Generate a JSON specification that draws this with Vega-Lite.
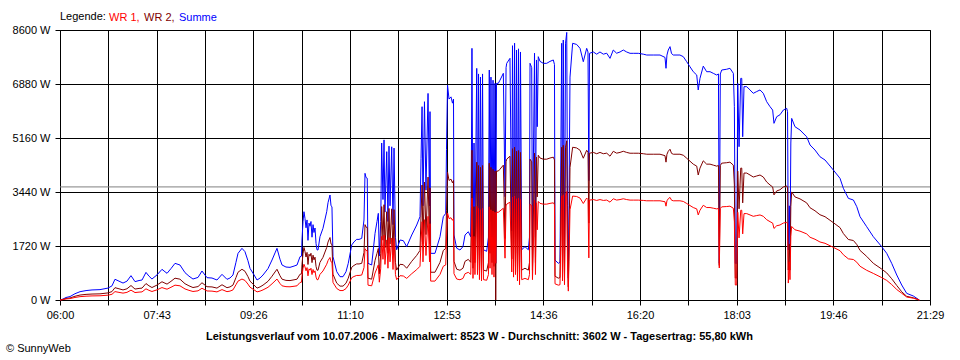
{
  "$schema": "https://vega.github.io/schema/vega-lite/v6.json",
  "width": 870,
  "height": 270,
  "autosize": {"type": "none"},
  "padding": {"left": 60, "top": 30, "right": 30, "bottom": 60},
  "background": "white",
  "config": {
    "font": "Liberation Sans",
    "view": {"stroke": "#000000", "strokeWidth": 1},
    "axis": {
      "labelFont": "Liberation Sans",
      "labelFontSize": 11,
      "labelColor": "#000000",
      "tickColor": "#000000",
      "tickSize": 5,
      "tickWidth": 1,
      "gridColor": "#000000",
      "gridOpacity": 1,
      "gridWidth": 1,
      "domain": false,
      "labelFlush": false,
      "labelOverlap": false,
      "labelBound": false
    }
  },
  "title": {
    "text": "© SunnyWeb",
    "orient": "bottom",
    "anchor": "start",
    "frame": "group",
    "dx": -54,
    "offset": 2,
    "font": "Liberation Sans",
    "fontSize": 11,
    "fontWeight": "normal",
    "color": "#000000"
  },
  "data": {
    "values": [
      {"t":360.0,"Summe":0,"WR1":0,"WR2":0},
      {"t":363.2,"Summe":30,"WR1":12,"WR2":18},
      {"t":366.4,"Summe":80,"WR1":32,"WR2":48},
      {"t":370.7,"Summe":110,"WR1":45,"WR2":65},
      {"t":376.0,"Summe":200,"WR1":81,"WR2":119},
      {"t":381.4,"Summe":265,"WR1":107,"WR2":158},
      {"t":387.8,"Summe":300,"WR1":121,"WR2":179},
      {"t":394.2,"Summe":320,"WR1":130,"WR2":190},
      {"t":402.7,"Summe":330,"WR1":134,"WR2":196},
      {"t":411.3,"Summe":380,"WR1":154,"WR2":226},
      {"t":415.5,"Summe":450,"WR1":182,"WR2":268},
      {"t":418.7,"Summe":660,"WR1":267,"WR2":393},
      {"t":423.0,"Summe":600,"WR1":243,"WR2":357},
      {"t":427.3,"Summe":540,"WR1":219,"WR2":321},
      {"t":431.5,"Summe":600,"WR1":243,"WR2":357},
      {"t":435.8,"Summe":775,"WR1":314,"WR2":461},
      {"t":440.1,"Summe":585,"WR1":237,"WR2":348},
      {"t":444.4,"Summe":620,"WR1":251,"WR2":369},
      {"t":447.6,"Summe":637,"WR1":258,"WR2":379},
      {"t":451.8,"Summe":880,"WR1":356,"WR2":524},
      {"t":455.0,"Summe":760,"WR1":308,"WR2":452},
      {"t":458.2,"Summe":668,"WR1":271,"WR2":397},
      {"t":463.6,"Summe":800,"WR1":324,"WR2":476},
      {"t":468.9,"Summe":977,"WR1":396,"WR2":581},
      {"t":472.1,"Summe":900,"WR1":364,"WR2":536},
      {"t":474.3,"Summe":850,"WR1":344,"WR2":506},
      {"t":478.5,"Summe":1000,"WR1":405,"WR2":595},
      {"t":482.8,"Summe":1168,"WR1":473,"WR2":695},
      {"t":488.1,"Summe":1115,"WR1":452,"WR2":663},
      {"t":493.5,"Summe":870,"WR1":352,"WR2":518},
      {"t":497.7,"Summe":760,"WR1":308,"WR2":452},
      {"t":502.0,"Summe":668,"WR1":271,"WR2":397},
      {"t":507.4,"Summe":720,"WR1":292,"WR2":428},
      {"t":511.6,"Summe":923,"WR1":374,"WR2":549},
      {"t":517.0,"Summe":711,"WR1":288,"WR2":423},
      {"t":522.3,"Summe":700,"WR1":283,"WR2":417},
      {"t":527.6,"Summe":637,"WR1":258,"WR2":379},
      {"t":533.0,"Summe":817,"WR1":331,"WR2":486},
      {"t":538.3,"Summe":658,"WR1":266,"WR2":392},
      {"t":541.5,"Summe":700,"WR1":283,"WR2":417},
      {"t":544.7,"Summe":796,"WR1":322,"WR2":474},
      {"t":547.9,"Summe":1200,"WR1":486,"WR2":714},
      {"t":550.1,"Summe":1486,"WR1":602,"WR2":884},
      {"t":554.3,"Summe":1646,"WR1":667,"WR2":979},
      {"t":557.5,"Summe":1540,"WR1":624,"WR2":916},
      {"t":560.7,"Summe":1250,"WR1":506,"WR2":744},
      {"t":562.9,"Summe":1008,"WR1":408,"WR2":600},
      {"t":567.2,"Summe":800,"WR1":324,"WR2":476},
      {"t":570.4,"Summe":637,"WR1":258,"WR2":379},
      {"t":573.6,"Summe":700,"WR1":283,"WR2":417},
      {"t":576.8,"Summe":796,"WR1":322,"WR2":474},
      {"t":582.1,"Summe":1000,"WR1":405,"WR2":595},
      {"t":586.4,"Summe":1274,"WR1":516,"WR2":758},
      {"t":589.6,"Summe":1500,"WR1":607,"WR2":893},
      {"t":591.7,"Summe":1646,"WR1":667,"WR2":979},
      {"t":594.9,"Summe":1300,"WR1":526,"WR2":774},
      {"t":597.1,"Summe":1115,"WR1":452,"WR2":663},
      {"t":601.3,"Summe":1050,"WR1":425,"WR2":625},
      {"t":605.6,"Summe":1040,"WR1":421,"WR2":619},
      {"t":609.9,"Summe":1080,"WR1":437,"WR2":643},
      {"t":613.1,"Summe":1115,"WR1":452,"WR2":663},
      {"t":616.3,"Summe":1380,"WR1":559,"WR2":821},
      {"t":617.9,"Summe":1400,"WR1":567,"WR2":833},
      {"t":618.4,"Summe":1911,"WR1":774,"WR2":1137},
      {"t":619.5,"Summe":2500,"WR1":1012,"WR2":1488},
      {"t":620.5,"Summe":2812,"WR1":1139,"WR2":1673},
      {"t":621.6,"Summe":2600,"WR1":1053,"WR2":1547},
      {"t":622.7,"Summe":2300,"WR1":931,"WR2":1369},
      {"t":623.8,"Summe":2550,"WR1":1033,"WR2":1517},
      {"t":624.8,"Summe":1900,"WR1":769,"WR2":1131},
      {"t":625.9,"Summe":2450,"WR1":992,"WR2":1458},
      {"t":627.0,"Summe":2350,"WR1":952,"WR2":1398},
      {"t":628.0,"Summe":2500,"WR1":1012,"WR2":1488},
      {"t":629.1,"Summe":2000,"WR1":810,"WR2":1190},
      {"t":630.2,"Summe":2400,"WR1":972,"WR2":1428},
      {"t":631.2,"Summe":2150,"WR1":871,"WR2":1279},
      {"t":632.3,"Summe":2293,"WR1":929,"WR2":1364},
      {"t":633.4,"Summe":1800,"WR1":729,"WR2":1071},
      {"t":634.4,"Summe":1600,"WR1":648,"WR2":952},
      {"t":635.5,"Summe":1592,"WR1":645,"WR2":947},
      {"t":637.6,"Summe":2016,"WR1":816,"WR2":1200},
      {"t":640.8,"Summe":2282,"WR1":924,"WR2":1358},
      {"t":644.8,"Summe":2812,"WR1":1139,"WR2":1673},
      {"t":646.2,"Summe":3100,"WR1":1255,"WR2":1845},
      {"t":648.3,"Summe":3344,"WR1":1354,"WR2":1990},
      {"t":649.4,"Summe":3000,"WR1":1215,"WR2":1785},
      {"t":650.4,"Summe":2972,"WR1":1204,"WR2":1768},
      {"t":651.5,"Summe":1380,"WR1":559,"WR2":821},
      {"t":655.5,"Summe":903,"WR1":366,"WR2":537},
      {"t":659.0,"Summe":743,"WR1":301,"WR2":442},
      {"t":662.2,"Summe":743,"WR1":301,"WR2":442},
      {"t":665.4,"Summe":900,"WR1":364,"WR2":536},
      {"t":667.8,"Summe":1168,"WR1":473,"WR2":695},
      {"t":671.5,"Summe":1752,"WR1":710,"WR2":1042},
      {"t":673.9,"Summe":1850,"WR1":749,"WR2":1101},
      {"t":676.8,"Summe":1932,"WR1":782,"WR2":1150},
      {"t":679.3,"Summe":1930,"WR1":782,"WR2":1148},
      {"t":682.2,"Summe":1964,"WR1":795,"WR2":1169},
      {"t":684.6,"Summe":2548,"WR1":1032,"WR2":1516},
      {"t":685.7,"Summe":4035,"WR1":1634,"WR2":2401},
      {"t":686.8,"Summe":3900,"WR1":1579,"WR2":2321},
      {"t":688.1,"Summe":3876,"WR1":1570,"WR2":2306},
      {"t":688.9,"Summe":1168,"WR1":473,"WR2":695},
      {"t":692.8,"Summe":1115,"WR1":452,"WR2":663},
      {"t":696.4,"Summe":2123,"WR1":860,"WR2":1263},
      {"t":698.5,"Summe":2500,"WR1":1012,"WR2":1488},
      {"t":699.9,"Summe":2760,"WR1":1118,"WR2":1642},
      {"t":701.0,"Summe":1400,"WR1":567,"WR2":833},
      {"t":702.5,"Summe":2500,"WR1":1012,"WR2":1488},
      {"t":703.5,"Summe":5000,"WR1":2025,"WR2":2975},
      {"t":704.9,"Summe":3200,"WR1":1296,"WR2":1904},
      {"t":706.0,"Summe":5100,"WR1":2065,"WR2":3035},
      {"t":707.0,"Summe":2800,"WR1":1134,"WR2":1666},
      {"t":708.9,"Summe":4725,"WR1":1914,"WR2":2811},
      {"t":710.2,"Summe":2500,"WR1":1012,"WR2":1488},
      {"t":711.3,"Summe":4900,"WR1":1984,"WR2":2916},
      {"t":712.4,"Summe":3000,"WR1":1215,"WR2":1785},
      {"t":714.2,"Summe":4880,"WR1":1976,"WR2":2904},
      {"t":715.6,"Summe":2400,"WR1":972,"WR2":1428},
      {"t":716.7,"Summe":4840,"WR1":1960,"WR2":2880},
      {"t":718.2,"Summe":2000,"WR1":810,"WR2":1190},
      {"t":719.5,"Summe":1600,"WR1":648,"WR2":952},
      {"t":723.1,"Summe":1911,"WR1":774,"WR2":1137},
      {"t":726.6,"Summe":1890,"WR1":765,"WR2":1125},
      {"t":730.2,"Summe":1700,"WR1":688,"WR2":1012},
      {"t":735.6,"Summe":2070,"WR1":838,"WR2":1232},
      {"t":740.9,"Summe":2389,"WR1":968,"WR2":1421},
      {"t":744.4,"Summe":2654,"WR1":1075,"WR2":1579},
      {"t":745.5,"Summe":4500,"WR1":1822,"WR2":2678},
      {"t":746.6,"Summe":6157,"WR1":2494,"WR2":3663},
      {"t":747.6,"Summe":3000,"WR1":1215,"WR2":1785},
      {"t":749.2,"Summe":6316,"WR1":2558,"WR2":3758},
      {"t":750.8,"Summe":3500,"WR1":1417,"WR2":2083},
      {"t":753.0,"Summe":6580,"WR1":2665,"WR2":3915},
      {"t":754.6,"Summe":3000,"WR1":1215,"WR2":1785},
      {"t":755.1,"Summe":6000,"WR1":2430,"WR2":3570},
      {"t":755.8,"Summe":1486,"WR1":602,"WR2":884},
      {"t":760.4,"Summe":1486,"WR1":602,"WR2":884},
      {"t":765.8,"Summe":2016,"WR1":816,"WR2":1200},
      {"t":769.3,"Summe":2654,"WR1":1075,"WR2":1579},
      {"t":771.9,"Summe":2760,"WR1":1118,"WR2":1642},
      {"t":772.7,"Summe":4800,"WR1":1944,"WR2":2856},
      {"t":773.8,"Summe":6848,"WR1":2773,"WR2":4075},
      {"t":775.4,"Summe":6400,"WR1":2592,"WR2":3808},
      {"t":777.5,"Summe":6470,"WR1":2620,"WR2":3850},
      {"t":779.1,"Summe":6270,"WR1":2539,"WR2":3731},
      {"t":780.2,"Summe":6400,"WR1":2592,"WR2":3808},
      {"t":780.7,"Summe":2070,"WR1":838,"WR2":1232},
      {"t":783.6,"Summe":1650,"WR1":668,"WR2":982},
      {"t":787.1,"Summe":1592,"WR1":645,"WR2":947},
      {"t":790.3,"Summe":1700,"WR1":688,"WR2":1012},
      {"t":792.5,"Summe":2070,"WR1":838,"WR2":1232},
      {"t":796.0,"Summe":2175,"WR1":881,"WR2":1294},
      {"t":798.6,"Summe":2016,"WR1":816,"WR2":1200},
      {"t":799.4,"Summe":5000,"WR1":2025,"WR2":2975},
      {"t":799.9,"Summe":8016,"WR1":3246,"WR2":4770},
      {"t":801.0,"Summe":1700,"WR1":688,"WR2":1012},
      {"t":802.1,"Summe":5000,"WR1":2025,"WR2":2975},
      {"t":803.1,"Summe":2000,"WR1":810,"WR2":1190},
      {"t":805.0,"Summe":7378,"WR1":2988,"WR2":4390},
      {"t":805.8,"Summe":2000,"WR1":810,"WR2":1190},
      {"t":806.9,"Summe":7200,"WR1":2916,"WR2":4284},
      {"t":807.9,"Summe":1600,"WR1":648,"WR2":952},
      {"t":809.0,"Summe":7100,"WR1":2875,"WR2":4225},
      {"t":810.1,"Summe":1500,"WR1":607,"WR2":893},
      {"t":811.2,"Summe":7200,"WR1":2916,"WR2":4284},
      {"t":812.2,"Summe":1600,"WR1":648,"WR2":952},
      {"t":815.6,"Summe":1550,"WR1":628,"WR2":922},
      {"t":817.5,"Summe":2000,"WR1":810,"WR2":1190},
      {"t":818.4,"Summe":7325,"WR1":2967,"WR2":4358},
      {"t":819.2,"Summe":2500,"WR1":1012,"WR2":1488},
      {"t":820.2,"Summe":7100,"WR1":2875,"WR2":4225},
      {"t":821.3,"Summe":2000,"WR1":810,"WR2":1190},
      {"t":822.4,"Summe":7000,"WR1":2835,"WR2":4165},
      {"t":823.4,"Summe":1800,"WR1":729,"WR2":1071},
      {"t":824.5,"Summe":6900,"WR1":2794,"WR2":4106},
      {"t":825.3,"Summe":1170,"WR1":1170,"WR2":0},
      {"t":826.1,"Summe":6900,"WR1":2794,"WR2":4106},
      {"t":828.0,"Summe":6900,"WR1":2794,"WR2":4106},
      {"t":829.8,"Summe":7000,"WR1":2835,"WR2":4165},
      {"t":833.4,"Summe":7220,"WR1":2924,"WR2":4296},
      {"t":835.2,"Summe":3290,"WR1":1332,"WR2":1958},
      {"t":836.3,"Summe":7400,"WR1":2997,"WR2":4403},
      {"t":837.0,"Summe":7538,"WR1":3053,"WR2":4485},
      {"t":840.5,"Summe":7697,"WR1":3117,"WR2":4580},
      {"t":842.4,"Summe":2200,"WR1":891,"WR2":1309},
      {"t":843.2,"Summe":8100,"WR1":3280,"WR2":4820},
      {"t":844.3,"Summe":1800,"WR1":729,"WR2":1071},
      {"t":845.4,"Summe":8180,"WR1":3313,"WR2":4867},
      {"t":846.4,"Summe":2000,"WR1":810,"WR2":1190},
      {"t":847.5,"Summe":7960,"WR1":3224,"WR2":4736},
      {"t":848.5,"Summe":1500,"WR1":607,"WR2":893},
      {"t":849.6,"Summe":8000,"WR1":3240,"WR2":4760},
      {"t":850.7,"Summe":1200,"WR1":486,"WR2":714},
      {"t":851.7,"Summe":7900,"WR1":3199,"WR2":4701},
      {"t":853.0,"Summe":1600,"WR1":648,"WR2":952},
      {"t":856.5,"Summe":1700,"WR1":688,"WR2":1012},
      {"t":860.1,"Summe":1600,"WR1":648,"WR2":952},
      {"t":861.3,"Summe":2000,"WR1":810,"WR2":1190},
      {"t":861.9,"Summe":7538,"WR1":3053,"WR2":4485},
      {"t":863.7,"Summe":7400,"WR1":2997,"WR2":4403},
      {"t":864.5,"Summe":1600,"WR1":648,"WR2":952},
      {"t":866.7,"Summe":7860,"WR1":3183,"WR2":4677},
      {"t":867.7,"Summe":2000,"WR1":810,"WR2":1190},
      {"t":868.8,"Summe":7645,"WR1":3096,"WR2":4549},
      {"t":869.6,"Summe":5520,"WR1":2236,"WR2":3284},
      {"t":870.7,"Summe":7750,"WR1":3139,"WR2":4611},
      {"t":872.6,"Summe":7600,"WR1":3078,"WR2":4522},
      {"t":876.1,"Summe":7538,"WR1":3053,"WR2":4485},
      {"t":879.7,"Summe":7538,"WR1":3053,"WR2":4485},
      {"t":883.2,"Summe":7600,"WR1":3078,"WR2":4522},
      {"t":886.8,"Summe":7645,"WR1":3096,"WR2":4549},
      {"t":888.0,"Summe":7500,"WR1":3037,"WR2":4463},
      {"t":888.6,"Summe":1274,"WR1":516,"WR2":758},
      {"t":892.1,"Summe":1168,"WR1":473,"WR2":695},
      {"t":893.9,"Summe":1200,"WR1":486,"WR2":714},
      {"t":895.7,"Summe":8176,"WR1":3311,"WR2":4865},
      {"t":896.6,"Summe":1500,"WR1":607,"WR2":893},
      {"t":897.4,"Summe":8280,"WR1":3353,"WR2":4927},
      {"t":898.7,"Summe":1200,"WR1":486,"WR2":714},
      {"t":899.8,"Summe":8180,"WR1":3313,"WR2":4867},
      {"t":901.1,"Summe":8523,"WR1":3452,"WR2":5071},
      {"t":901.9,"Summe":3000,"WR1":1215,"WR2":1785},
      {"t":902.8,"Summe":700,"WR1":283,"WR2":417},
      {"t":903.5,"Summe":3000,"WR1":1215,"WR2":1785},
      {"t":904.6,"Summe":7100,"WR1":2875,"WR2":4225},
      {"t":907.4,"Summe":8176,"WR1":3311,"WR2":4865},
      {"t":911.7,"Summe":8140,"WR1":3297,"WR2":4843},
      {"t":915.3,"Summe":8016,"WR1":3246,"WR2":4770},
      {"t":918.8,"Summe":7590,"WR1":3074,"WR2":4516},
      {"t":922.4,"Summe":8016,"WR1":3246,"WR2":4770},
      {"t":923.8,"Summe":7900,"WR1":3199,"WR2":4701},
      {"t":924.7,"Summe":3800,"WR1":1340,"WR2":2450},
      {"t":925.4,"Summe":7857,"WR1":3182,"WR2":4675},
      {"t":929.5,"Summe":7900,"WR1":3199,"WR2":4701},
      {"t":933.1,"Summe":7830,"WR1":3171,"WR2":4659},
      {"t":936.6,"Summe":7900,"WR1":3199,"WR2":4701},
      {"t":940.2,"Summe":7830,"WR1":3171,"WR2":4659},
      {"t":943.8,"Summe":7860,"WR1":3183,"WR2":4677},
      {"t":947.3,"Summe":7697,"WR1":3117,"WR2":4580},
      {"t":950.8,"Summe":7962,"WR1":3225,"WR2":4737},
      {"t":954.4,"Summe":7860,"WR1":3183,"WR2":4677},
      {"t":958.0,"Summe":7900,"WR1":3199,"WR2":4701},
      {"t":961.5,"Summe":7962,"WR1":3225,"WR2":4737},
      {"t":965.1,"Summe":7900,"WR1":3199,"WR2":4701},
      {"t":968.7,"Summe":7857,"WR1":3182,"WR2":4675},
      {"t":972.2,"Summe":7857,"WR1":3182,"WR2":4675},
      {"t":977.5,"Summe":7857,"WR1":3182,"WR2":4675},
      {"t":982.9,"Summe":7830,"WR1":3171,"WR2":4659},
      {"t":986.5,"Summe":7803,"WR1":3160,"WR2":4643},
      {"t":993.5,"Summe":7803,"WR1":3160,"WR2":4643},
      {"t":1000.7,"Summe":7803,"WR1":3160,"WR2":4643},
      {"t":1006.0,"Summe":7728,"WR1":3130,"WR2":4598},
      {"t":1007.1,"Summe":7380,"WR1":2989,"WR2":4391},
      {"t":1008.1,"Summe":7800,"WR1":3159,"WR2":4641},
      {"t":1009.5,"Summe":7962,"WR1":3225,"WR2":4737},
      {"t":1011.4,"Summe":8070,"WR1":3268,"WR2":4802},
      {"t":1013.0,"Summe":7850,"WR1":3179,"WR2":4671},
      {"t":1014.9,"Summe":7803,"WR1":3160,"WR2":4643},
      {"t":1022.0,"Summe":7803,"WR1":3160,"WR2":4643},
      {"t":1025.6,"Summe":7750,"WR1":3139,"WR2":4611},
      {"t":1029.2,"Summe":7590,"WR1":3074,"WR2":4516},
      {"t":1032.7,"Summe":7430,"WR1":3009,"WR2":4421},
      {"t":1036.2,"Summe":7272,"WR1":2945,"WR2":4327},
      {"t":1039.9,"Summe":7166,"WR1":2902,"WR2":4264},
      {"t":1041.5,"Summe":6690,"WR1":2709,"WR2":3981},
      {"t":1043.4,"Summe":7060,"WR1":2859,"WR2":4201},
      {"t":1046.9,"Summe":7450,"WR1":3017,"WR2":4433},
      {"t":1050.5,"Summe":7272,"WR1":2945,"WR2":4327},
      {"t":1054.1,"Summe":7272,"WR1":2945,"WR2":4327},
      {"t":1057.6,"Summe":7220,"WR1":2924,"WR2":4296},
      {"t":1061.2,"Summe":7166,"WR1":2902,"WR2":4264},
      {"t":1063.1,"Summe":7200,"WR1":2916,"WR2":4284},
      {"t":1064.0,"Summe":1168,"WR1":1020,"WR2":1100},
      {"t":1065.1,"Summe":7200,"WR1":2916,"WR2":4284},
      {"t":1066.6,"Summe":7325,"WR1":2967,"WR2":4358},
      {"t":1071.9,"Summe":7350,"WR1":2977,"WR2":4373},
      {"t":1075.4,"Summe":7380,"WR1":2989,"WR2":4391},
      {"t":1079.0,"Summe":7220,"WR1":2924,"WR2":4296},
      {"t":1080.1,"Summe":6157,"WR1":2494,"WR2":3663},
      {"t":1081.1,"Summe":1168,"WR1":478,"WR2":700},
      {"t":1082.6,"Summe":1168,"WR1":478,"WR2":700},
      {"t":1083.7,"Summe":6900,"WR1":2794,"WR2":4106},
      {"t":1085.1,"Summe":4883,"WR1":1978,"WR2":2905},
      {"t":1086.9,"Summe":7060,"WR1":2859,"WR2":4201},
      {"t":1088.0,"Summe":7060,"WR1":2859,"WR2":4201},
      {"t":1089.0,"Summe":5200,"WR1":2106,"WR2":3094},
      {"t":1090.4,"Summe":6795,"WR1":2752,"WR2":4043},
      {"t":1093.3,"Summe":6795,"WR1":2752,"WR2":4043},
      {"t":1096.8,"Summe":6690,"WR1":2709,"WR2":3981},
      {"t":1100.3,"Summe":6583,"WR1":2666,"WR2":3917},
      {"t":1104.0,"Summe":6640,"WR1":2689,"WR2":3951},
      {"t":1107.5,"Summe":6690,"WR1":2709,"WR2":3981},
      {"t":1111.0,"Summe":6583,"WR1":2666,"WR2":3917},
      {"t":1114.6,"Summe":6317,"WR1":2558,"WR2":3759},
      {"t":1118.2,"Summe":6157,"WR1":2494,"WR2":3663},
      {"t":1121.0,"Summe":6050,"WR1":2450,"WR2":3600},
      {"t":1122.4,"Summe":5627,"WR1":2279,"WR2":3348},
      {"t":1125.3,"Summe":5838,"WR1":2364,"WR2":3474},
      {"t":1128.8,"Summe":5900,"WR1":2389,"WR2":3511},
      {"t":1132.4,"Summe":6051,"WR1":2451,"WR2":3600},
      {"t":1136.0,"Summe":6105,"WR1":2473,"WR2":3632},
      {"t":1136.9,"Summe":6000,"WR1":2430,"WR2":3570},
      {"t":1137.7,"Summe":1592,"WR1":540,"WR2":955},
      {"t":1138.8,"Summe":3000,"WR1":1215,"WR2":1785},
      {"t":1139.5,"Summe":1600,"WR1":648,"WR2":952},
      {"t":1140.4,"Summe":5000,"WR1":2025,"WR2":2975},
      {"t":1141.3,"Summe":5785,"WR1":2343,"WR2":3442},
      {"t":1144.8,"Summe":5520,"WR1":2236,"WR2":3284},
      {"t":1150.2,"Summe":5414,"WR1":2193,"WR2":3221},
      {"t":1157.3,"Summe":5200,"WR1":2106,"WR2":3094},
      {"t":1160.9,"Summe":4937,"WR1":1999,"WR2":2938},
      {"t":1166.2,"Summe":4777,"WR1":1935,"WR2":2842},
      {"t":1171.5,"Summe":4564,"WR1":1848,"WR2":2716},
      {"t":1176.9,"Summe":4459,"WR1":1806,"WR2":2653},
      {"t":1185.8,"Summe":4140,"WR1":1677,"WR2":2463},
      {"t":1192.9,"Summe":3876,"WR1":1570,"WR2":2306},
      {"t":1196.5,"Summe":3557,"WR1":1441,"WR2":2116},
      {"t":1201.8,"Summe":3238,"WR1":1311,"WR2":1927},
      {"t":1207.2,"Summe":3185,"WR1":1290,"WR2":1895},
      {"t":1210.8,"Summe":2972,"WR1":1204,"WR2":1768},
      {"t":1214.3,"Summe":2654,"WR1":1075,"WR2":1579},
      {"t":1221.4,"Summe":2335,"WR1":946,"WR2":1389},
      {"t":1228.5,"Summe":2016,"WR1":847,"WR2":1169},
      {"t":1237.4,"Summe":1700,"WR1":714,"WR2":986},
      {"t":1242.8,"Summe":1486,"WR1":624,"WR2":862},
      {"t":1248.1,"Summe":1168,"WR1":491,"WR2":677},
      {"t":1253.5,"Summe":796,"WR1":334,"WR2":462},
      {"t":1258.8,"Summe":478,"WR1":215,"WR2":263},
      {"t":1264.1,"Summe":212,"WR1":95,"WR2":117},
      {"t":1271.2,"Summe":127,"WR1":57,"WR2":70},
      {"t":1277.6,"Summe":0,"WR1":0,"WR2":0}
    ]
  },
  "encoding": {
    "x": {
      "field": "t",
      "type": "quantitative",
      "scale": {"domain": [360, 1289], "nice": false, "zero": false},
      "axis": {
        "values": [360, 411.611, 463.222, 514.833, 566.444, 618.056, 669.667, 721.278, 772.889, 824.5, 876.111, 927.722, 979.333, 1030.944, 1082.556, 1134.167, 1185.778, 1237.389, 1289],
        "labelExpr": "['06:00','','07:43','','09:26','','11:10','','12:53','','14:36','','16:20','','18:03','','19:46','','21:29'][round((datum.value-360)/51.6111)]",
        "grid": true,
        "labelPadding": 4,
        "title": "Leistungsverlauf vom 10.07.2006 - Maximalwert: 8523 W - Durchschnitt: 3602 W - Tagesertrag: 55,80 kWh",
        "titleFont": "Liberation Sans",
        "titleFontSize": 11,
        "titleFontWeight": "bold",
        "titleColor": "#000000",
        "titlePadding": 10,
        "titleX": 419
      }
    },
    "y": {
      "type": "quantitative",
      "scale": {"domain": [0, 8600], "nice": false},
      "axis": {
        "values": [0, 1720, 3440, 5160, 6880, 8600],
        "labelExpr": "datum.value + ' W'",
        "grid": true,
        "labelPadding": 5,
        "title": null
      }
    }
  },
  "layer": [
    {
      "data": {"values": [{"avg": 3602}]},
      "mark": {"type": "rule", "color": "#808080", "strokeWidth": 1},
      "encoding": {"x": null, "y": {"field": "avg", "type": "quantitative"}}
    },
    {
      "mark": {"type": "line", "strokeWidth": 1, "interpolate": "linear"},
      "encoding": {
        "y": {"field": "Summe", "type": "quantitative"},
        "color": {
          "datum": "Summe",
          "type": "nominal",
          "scale": {"domain": ["WR 1", "WR 2", "Summe"], "range": ["#ff0000", "#800000", "#0000ff"]},
          "legend": {
            "title": "Legende:",
            "orient": "none",
            "legendX": 0,
            "legendY": -18,
            "direction": "horizontal",
            "titleOrient": "left",
            "titleFont": "Liberation Sans",
            "titleFontSize": 11,
            "titleFontWeight": "normal",
            "titleColor": "#000000",
            "titlePadding": 3,
            "labelFont": "Liberation Sans",
            "labelFontSize": 11,
            "labelOffset": -11,
            "symbolSize": 0,
            "symbolStrokeWidth": 0,
            "symbolOpacity": 0,
            "columnPadding": 4,
            "padding": 0,
            "labelExpr": "datum.label == 'Summe' ? datum.label : datum.label + ','",
            "labelColor": {"expr": "datum.value == 'WR 1' ? '#ff0000' : (datum.value == 'WR 2' ? '#800000' : '#0000ff')"}
          }
        }
      }
    },
    {
      "mark": {"type": "line", "strokeWidth": 1, "interpolate": "linear"},
      "encoding": {
        "y": {"field": "WR2", "type": "quantitative"},
        "color": {"datum": "WR 2", "type": "nominal"}
      }
    },
    {
      "mark": {"type": "line", "strokeWidth": 1, "interpolate": "linear"},
      "encoding": {
        "y": {"field": "WR1", "type": "quantitative"},
        "color": {"datum": "WR 1", "type": "nominal"}
      }
    }
  ]
}
